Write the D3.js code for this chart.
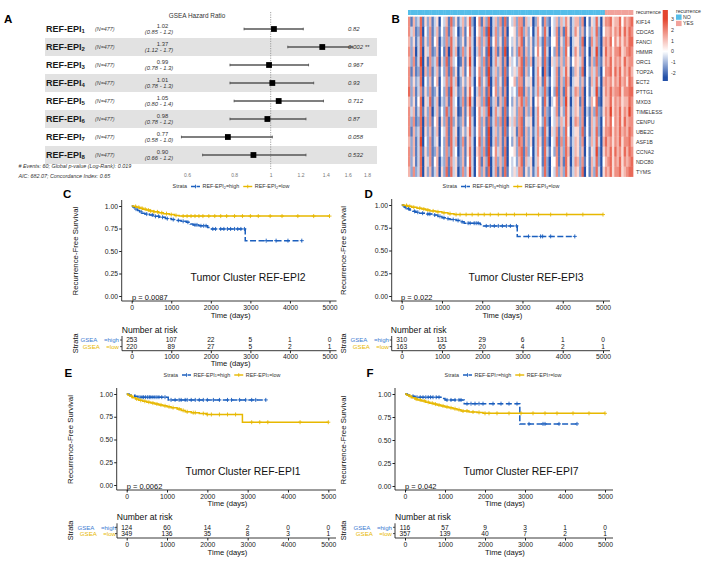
<!DOCTYPE html>
<html><head><meta charset="utf-8">
<script src="https://cdn.jsdelivr.net/npm/d3@7"></script>
<style>
body{margin:0;background:#fff}
svg{display:block}
text{font-family:"Liberation Sans",Arial,Helvetica,sans-serif}
</style>
</head><body>
<svg id="c" width="705" height="561"></svg>
<script>
// ================= DATA =================
// Panel A – forest plot
const forestSub = ["1","2","3","4","5","6","7","8"];
const forestN = "(N=477)";
const forestHR = [1.02,1.37,0.99,1.01,1.05,0.98,0.77,0.90];
const forestLo = [0.85,1.11,0.78,0.78,0.80,0.78,0.58,0.66];
const forestHi = [1.22,1.65,1.26,1.30,1.38,1.24,1.01,1.24];
const forestHRText = ["1.02","1.37","0.99","1.01","1.05","0.98","0.77","0.90"];
const forestCIText = ["(0.85 - 1.2)","(1.12 - 1.7)","(0.78 - 1.3)","(0.78 - 1.3)","(0.80 - 1.4)","(0.78 - 1.2)","(0.58 - 1.0)","(0.66 - 1.2)"];
const forestP = ["0.82","0.002 **","0.967","0.93","0.712","0.87","0.058","0.532"];
const forestTicks = [0.6,0.8,1,1.2,1.4,1.6,1.8];
const forestNotes = ["# Events: 60; Global p-value (Log-Rank): 0.019","AIC: 682.07; Concordance Index: 0.65"];

// Panel B – heatmap (digit d -> z = -2.4 + 0.6*d)
const genes = ["KIF14","CDCA5","FANCI","HMMR","ORC1","TOP2A","ECT2","PTTG1","MXD3","TIMELESS","CENPU","UBE2C","ASF1B","CCNA2","NDC80","TYMS"];
const heatRows = [
"716238152613 504361825136 258204716280 362718143627 716350264172 143626375136 627041538305 778566847678",
"736128042713 614271734026 148304627190 372617044527 826240374283 043716185137 526142638204 667576858687",
"625138152714 603272835125 157305726291 472518143526 815251373182 144715286035 528041737206 768475757688",
"726038053712 604170836027 258303725190 371619042528 716251474183 042716284037 527140639205 867577856787",
"627139051723 705281734016 159304627180 373617053426 817260365182 053626275146 537041628215 768576758677",
"716128062713 614271825036 148314726191 362618143537 816240374082 043716385026 528042637204 778586857686",
"725238042614 604372836025 257304825290 372518044627 715350375183 143716286035 526141638306 767576867587",
"826137152712 504271935126 158403726180 472617043428 816251373282 042816185137 627041539205 768677857788",
"625148053813 603261834027 169305627191 361628042526 827250464183 034716295036 517042648105 668576756687",
"736138152703 614282835016 158204736290 373618143527 716260374172 143715285136 527031628215 769576857697",
"727128062714 605271825126 148304726181 372718053627 815350374282 043626385037 627041637204 768476858677",
"716238052613 604371835025 258314725190 362618143517 816251373183 053716284035 528141638205 778576867687",
"626139042713 504271836027 157304826190 372617042528 716250375182 043817285136 527042638306 867576857786",
"726138152712 614272834026 158305727191 473618044527 817240374183 142716286036 526041539205 768586758687",
"725138053714 603271735126 148304716290 372628043426 816350364182 044716185037 627141638204 678576857678",
"627238052613 605281835027 259304726180 371618143537 715251374282 043726285136 528041628305 768577856788"
];
const recurrenceCats = ["NO","YES"];
const recurrenceN = [84,12];
const heatLegendTicks = [3,2,1,0,-1,-2];

// Panels C–F – Kaplan–Meier
const kmTimeTicks = [0,1000,2000,3000,4000,5000];
const kmSurvTicks = [0,0.25,0.5,0.75,1];
const kmSub = ["2","3","1","7"];
const kmTitles = ["Tumor Cluster REF-EPI2","Tumor Cluster REF-EPI3","Tumor Cluster REF-EPI1","Tumor Cluster REF-EPI7"];
const kmPvals = ["p = 0.0087","p = 0.022","p = 0.0062","p = 0.042"];

const kmHighEvents = [
 [[30,0.99],[60,0.98],[100,0.965],[150,0.95],[200,0.935],[260,0.92],[330,0.91],[450,0.90],[550,0.885],[700,0.875],[850,0.86],[1000,0.85],[1100,0.84],[1250,0.83],[1380,0.82],[1480,0.80],[1550,0.79],[1700,0.78],[1920,0.76],[1980,0.745],[2870,0.615]],
 [[40,0.99],[80,0.975],[130,0.96],[200,0.945],[280,0.93],[350,0.92],[450,0.91],[600,0.90],[750,0.89],[900,0.875],[1000,0.86],[1100,0.85],[1200,0.84],[1350,0.83],[1450,0.815],[1550,0.80],[1950,0.785],[2000,0.77],[2870,0.655]],
 [[60,0.99],[200,0.975],[280,0.965],[1030,0.935]],
 [[60,0.99],[150,0.975],[250,0.965],[900,0.95],[1000,0.935],[1480,0.895],[2870,0.675]]
];
const kmHighEnd = [4300,4300,3450,4300];
const kmHighCens = [
 [110,240,380,520,600,680,780,900,1050,1180,1300,1420,1600,1650,1750,1820,1880,2050,2120,2250,2330,2420,2500,2600,2680,2760,2850,3400,3650,3950,4300],
 [90,170,320,400,520,650,700,820,950,1050,1150,1280,1400,1500,1650,1700,1800,1850,1900,2100,2200,2300,2400,2500,2600,2700,2850,3150,3450,3500,3700,4300],
 [330,380,420,470,520,560,600,650,700,750,800,870,950,1100,1200,1300,1350,1450,1500,1600,1700,1800,1900,2000,2150,2300,2500,2600,2800,2950,3100,3200,3450],
 [200,300,380,450,520,580,640,700,780,850,1050,1150,1250,1350,1400,1550,1650,1750,1850,1950,2200,2400,2600,2800,3100,3450,3500,3850,4300]
];
const kmLowEvents = [
 [[50,0.995],[120,0.985],[200,0.975],[280,0.965],[370,0.955],[460,0.945],[560,0.935],[680,0.925],[800,0.915],[950,0.905],[1080,0.895],[1200,0.888]],
 [[60,0.995],[150,0.985],[250,0.975],[380,0.965],[500,0.955],[600,0.945],[700,0.935],[850,0.925],[1000,0.915],[1150,0.905],[1300,0.895]],
 [[30,0.99],[80,0.975],[150,0.96],[220,0.945],[300,0.93],[400,0.92],[500,0.91],[600,0.90],[700,0.89],[800,0.88],[900,0.87],[1000,0.86],[1100,0.85],[1250,0.835],[1350,0.82],[1450,0.805],[1600,0.795],[1800,0.785],[1980,0.775],[2870,0.69]],
 [[40,0.99],[100,0.975],[170,0.96],[250,0.945],[320,0.935],[420,0.925],[520,0.91],[620,0.90],[720,0.89],[800,0.88],[900,0.87],[1000,0.86],[1100,0.85],[1200,0.84],[1300,0.83],[1400,0.815],[1600,0.805],[1800,0.80],[1950,0.79]]
];
const kmLowEnd = [5000,5000,5000,5000];
const kmLowCens = [
 [100,180,260,340,420,480,560,650,760,880,1000,1120,1300,1400,1500,1600,1700,1800,1950,2100,2250,2400,2600,2800,3000,3200,3500,3800,4200,4600,5000],
 [120,200,300,450,550,650,780,900,1050,1200,1350,1450,1600,1750,1900,2050,2200,2400,2600,2800,3100,3400,3700,4100,4500,5000],
 [120,250,350,450,550,650,750,850,950,1050,1150,1300,1400,1500,1650,1700,1900,2000,2100,2300,2500,2700,3100,3300,3500,4300,5000],
 [130,280,380,480,580,680,760,850,950,1050,1150,1250,1350,1450,1550,1700,1850,2000,2100,2300,2600,2900,3200,3500,3800,4200,4600,5000]
];
const riskHigh = [[253,107,22,5,1,0],[310,131,29,6,1,0],[124,60,14,2,0,0],[116,57,9,3,1,0]];
const riskLow  = [[220,89,27,5,2,1],[163,65,20,4,2,1],[349,136,35,8,3,1],[357,139,40,7,2,1]];

// ================= DRAW =================
const svg = d3.select("#c");
const BLUE = "#1b5fbe", YEL = "#E7B800", BLUE_LAB = "#3d7bd2";
const FF = "Liberation Sans, Arial, sans-serif";

function letter(t,x,y){ svg.append("text").attr("x",x).attr("y",y).attr("font-size",11.5).attr("font-weight","bold").text(t); }
letter("A",4,23.3); letter("B",391.5,23.3);

// ---- Panel A
(function(){
  const g = svg.append("g");
  const n = forestHR.length;
  const fx = d3.scaleLog().domain([0.6,1.8]).range([187,367]);
  const fy = d3.scaleBand().domain(d3.range(n)).range([20,164]);
  const bw = fy.bandwidth();
  g.selectAll("rect.band").data(d3.range(n).filter(i=>i%2===1)).join("rect")
    .attr("x",45).attr("y",i=>fy(i)).attr("width",332).attr("height",bw).attr("fill","#e2e2e2");
  g.append("text").attr("x",197).attr("y",17.6).attr("text-anchor","middle").attr("font-size",6.4).attr("fill","#333").text("GSEA Hazard Ratio");
  g.append("line").attr("x1",fx(1)).attr("x2",fx(1)).attr("y1",12).attr("y2",169)
    .attr("stroke","#8a8a8a").attr("stroke-width",0.8).attr("stroke-dasharray","1.2,1.2");
  const rows = g.selectAll("g.row").data(d3.range(n)).join("g").attr("transform",i=>`translate(0,${fy(i)+bw/2})`);
  const lab = rows.append("text").attr("x",46).attr("y",3.4).attr("font-size",9).attr("font-weight","bold").attr("fill","#1a1a1a");
  lab.append("tspan").text("REF-EPI");
  lab.append("tspan").attr("font-size",6).attr("dy",0.6).text(i=>forestSub[i]);
  rows.append("text").attr("x",95).attr("y",2).attr("font-size",5.4).attr("font-style","italic").attr("fill","#444").text(forestN);
  rows.append("text").attr("x",162.5).attr("y",-1).attr("text-anchor","middle").attr("font-size",5.8).attr("fill","#333").text(i=>forestHRText[i]);
  rows.append("text").attr("x",159).attr("y",4.6).attr("text-anchor","middle").attr("font-size",5.8).attr("font-style","italic").attr("fill","#333").text(i=>forestCIText[i]);
  rows.append("line").attr("x1",i=>fx(forestLo[i])).attr("x2",i=>fx(forestHi[i])).attr("y1",0).attr("y2",0).attr("stroke","#555").attr("stroke-width",1.3);
  rows.append("line").attr("x1",i=>fx(forestLo[i])).attr("x2",i=>fx(forestLo[i])).attr("y1",-1.3).attr("y2",1.3).attr("stroke","#555").attr("stroke-width",0.9);
  rows.append("line").attr("x1",i=>fx(forestHi[i])).attr("x2",i=>fx(forestHi[i])).attr("y1",-1.3).attr("y2",1.3).attr("stroke","#555").attr("stroke-width",0.9);
  rows.append("rect").attr("x",i=>fx(forestHR[i])-2.9).attr("y",-2.9).attr("width",5.8).attr("height",5.8).attr("fill","#000");
  rows.append("text").attr("x",348).attr("y",2).attr("font-size",6).attr("font-style","italic").attr("fill","#333").text(i=>forestP[i]);
  const ax = g.append("g").attr("transform","translate(0,172)")
    .call(d3.axisBottom(fx).tickValues(forestTicks).tickFormat(d=>String(d)).tickSize(0).tickPadding(1));
  ax.select(".domain").remove();
  ax.selectAll("text").attr("font-size",5).attr("fill","#777").attr("font-family",FF);
  g.selectAll("text.note").data(forestNotes).join("text").attr("class","note")
    .attr("x",18.5).attr("y",(d,i)=>167.5+i*10).attr("font-size",5.4).attr("font-style","italic").attr("fill","#333").text(d=>d);
})();

// ---- Panel B
(function(){
  const g = svg.append("g");
  const mat = heatRows.map(s=>s.replace(/\s/g,"").split("").map(c=>-2.4+0.6*(+c)));
  const ncol = d3.max(mat,r=>r.length);
  const hx = d3.scaleBand().domain(d3.range(ncol)).range([408,633]);
  const hy = d3.scaleBand().domain(genes).range([16.7,176.7]);
  const col = d3.scaleLinear().domain([-2.4,0,3]).range(["#2350a8","#ffffff","#e4452f"]).clamp(true);
  const cells = [];
  mat.forEach((r,gi)=>r.forEach((v,ci)=>cells.push({g:genes[gi],c:ci,v})));
  g.selectAll("rect.cell").data(cells).join("rect")
    .attr("x",d=>hx(d.c)).attr("y",d=>hy(d.g)).attr("width",hx.bandwidth()+0.35).attr("height",hy.bandwidth()+0.2)
    .attr("fill",d=>col(d.v));
  const annCol = {NO:"#55bde9",YES:"#f1a29b"};
  const ann = [];
  recurrenceCats.forEach((c,k)=>{ for(let j=0;j<recurrenceN[k];j++) ann.push(c); });
  g.selectAll("rect.ann").data(ann).join("rect")
    .attr("x",(d,i)=>hx(i)).attr("y",10).attr("width",hx.bandwidth()+0.35).attr("height",5).attr("fill",d=>annCol[d]);
  g.append("text").attr("x",636).attr("y",14.2).attr("font-size",5.2).attr("fill","#333").text("recurrence");
  g.selectAll("text.gene").data(genes).join("text").attr("class","gene")
    .attr("x",636).attr("y",d=>hy(d)+hy.bandwidth()/2+1.9).attr("font-size",5.3).attr("fill","#333").text(d=>d);
  const cy = d3.scaleLinear().domain([3,-2]).range([19,73]);
  const top=10, bot=81;
  const defs = svg.append("defs");
  const grad = defs.append("linearGradient").attr("id","hg").attr("x1",0).attr("x2",0).attr("y1",0).attr("y2",1);
  [3.8,3,1.5,0,-1.2,-2.4,-2.8].forEach(v=>{
    const off = Math.max(0,Math.min(1,(cy(v)-top)/(bot-top)));
    grad.append("stop").attr("offset",off).attr("stop-color",col(v));
  });
  g.append("rect").attr("x",662.7).attr("y",top).attr("width",5.2).attr("height",bot-top).attr("fill","url(#hg)");
  g.selectAll("text.lt").data(heatLegendTicks).join("text").attr("class","lt")
    .attr("x",671).attr("y",d=>cy(d)+1.9).attr("font-size",5.3).attr("fill","#333").text(d=>d);
  g.append("text").attr("x",676).attr("y",13).attr("font-size",5.2).attr("fill","#333").text("recurrence");
  recurrenceCats.forEach((c,k)=>{
    g.append("rect").attr("x",676).attr("y",14.5+k*6.3).attr("width",5.6).attr("height",5.3).attr("fill",annCol[c]);
    g.append("text").attr("x",683).attr("y",18.9+k*6.3).attr("font-size",5.2).attr("fill","#333").text(c);
  });
})();

// ---- Panels C–F
const kmCfg = [
 {L:"C",lx:63,ly:197.5, ax:121.7,x0:131.7,x1:329.5,right:336.5, yt:206,yb:296,axY:301, legCx:231,legY:186.5, ytX:75,timeY:317.5, tum:[248,281], pxy:[132,299.5], nar:[121.7,332.5], r:[340,346.6], raX:122,raY:350.7, rTime:366.2, labR:119, strX:75},
 {L:"D",lx:364.5,ly:197.5, ax:391.7,x0:401.7,x1:603,right:610, yt:205,yb:296,axY:301, legCx:501,legY:186.5, ytX:343,timeY:318.3, tum:[526,281], pxy:[401,299.5], nar:[390.7,332.5], r:[340,346.6], raX:391.7,raY:350.7, rTime:null, labR:389, strX:343},
 {L:"E",lx:64.5,ly:377.3, ax:116.7,x0:126.7,x1:328.3,right:336, yt:394,yb:485,axY:490, legCx:222,legY:375, ytX:70,timeY:505.5, tum:[243,474.6], pxy:[126.7,488.5], nar:[116.7,519.5], r:[527.3,533.6], raX:117,raY:538, rTime:555.3, labR:116, strX:70},
 {L:"F",lx:366.5,ly:377.3, ax:395,x0:405,x1:605,right:613, yt:394,yb:486,axY:490, legCx:503,legY:375, ytX:343,timeY:505.5, tum:[521,474.6], pxy:[405,488.5], nar:[395,519.5], r:[527.3,533.6], raX:395,raY:538, rTime:555.3, labR:392, strX:343}
];

function stepPts(ev,end){ const p=[[0,1]]; let s=1; ev.forEach(([t,v])=>{p.push([t,s]);p.push([t,v]);s=v;}); p.push([end,s]); return p; }
function survAt(ev,t){ let s=1; for(const [tt,v] of ev){ if(tt<=t) s=v; } return s; }

kmCfg.forEach((c,k)=>{
  const g = svg.append("g");
  letter(c.L,c.lx,c.ly);
  const x = d3.scaleLinear().domain([0,5000]).range([c.x0,c.x1]);
  const y = d3.scaleLinear().domain([0,1]).range([c.yb,c.yt]);
  const fs = 6.8;
  const xa = g.append("g").attr("transform",`translate(0,${c.axY})`)
    .call(d3.axisBottom(x).tickValues(kmTimeTicks).tickFormat(d3.format("d")).tickSize(2.5).tickPadding(1.2));
  xa.select(".domain").remove();
  g.append("line").attr("x1",c.ax).attr("x2",c.right).attr("y1",c.axY).attr("y2",c.axY).attr("stroke","#222").attr("stroke-width",0.9);
  const ya = g.append("g").attr("transform",`translate(${c.ax},0)`)
    .call(d3.axisLeft(y).tickValues(kmSurvTicks).tickFormat(d3.format(".2f")).tickSize(2.5).tickPadding(1.2));
  ya.select(".domain").remove();
  g.append("line").attr("x1",c.ax).attr("x2",c.ax).attr("y1",c.yt-6).attr("y2",c.axY).attr("stroke","#222").attr("stroke-width",0.9);
  [xa,ya].forEach(a=>{ a.selectAll("text").attr("font-size",fs).attr("fill","#222").attr("font-family",FF); a.selectAll(".tick line").attr("stroke","#222"); });
  g.append("text").attr("x",(c.x0+c.x1)/2).attr("y",c.timeY).attr("text-anchor","middle").attr("font-size",7.6).attr("fill","#111").text("Time (days)");
  g.append("text").attr("transform",`translate(${c.ytX+2.8},${(c.yt+c.yb)/2}) rotate(-90)`).attr("text-anchor","middle").attr("font-size",7.8).attr("fill","#111").text("Recurrence-Free Survival");
  const line = d3.line().x(p=>x(p[0])).y(p=>y(p[1]));
  const series = [
    {ev:kmHighEvents[k],end:kmHighEnd[k],cens:kmHighCens[k],color:BLUE,dash:"6,2.5"},
    {ev:kmLowEvents[k],end:kmLowEnd[k],cens:kmLowCens[k],color:YEL,dash:null}
  ];
  series.forEach(s=>{
    g.append("path").attr("d",line(stepPts(s.ev,s.end))).attr("fill","none").attr("stroke",s.color).attr("stroke-width",1.5)
      .attr("stroke-dasharray",s.dash);
    const cg = g.append("g").attr("stroke",s.color).attr("stroke-width",0.9);
    s.cens.forEach(t=>{
      const px=x(t), py=y(survAt(s.ev,t));
      cg.append("line").attr("x1",px-2).attr("x2",px+2).attr("y1",py).attr("y2",py);
      cg.append("line").attr("x1",px).attr("x2",px).attr("y1",py-2).attr("y2",py+2);
    });
  });
  g.append("text").attr("x",c.tum[0]).attr("y",c.tum[1]).attr("text-anchor","middle").attr("font-size",10.4).attr("fill","#111").text(kmTitles[k]);
  g.append("text").attr("x",c.pxy[0]).attr("y",c.pxy[1]).attr("font-size",7.5).attr("fill","#111").text(kmPvals[k]);
  // legend
  const lg = g.append("g");
  const lfs = 5.4;
  const items = [];
  const tS = lg.append("text").attr("y",c.legY+1.9).attr("font-size",lfs).attr("fill","#333").text("Strata");
  items.push({node:tS,w:tS.node().getComputedTextLength(),gap:4});
  [["high",BLUE,"4,1.5"],["low",YEL,null]].forEach(([lv,colr,dash])=>{
    const sym = lg.append("g");
    sym.append("line").attr("x1",0).attr("x2",9).attr("y1",c.legY).attr("y2",c.legY).attr("stroke",colr).attr("stroke-width",1.4).attr("stroke-dasharray",dash);
    sym.append("line").attr("x1",4.5).attr("x2",4.5).attr("y1",c.legY-1.8).attr("y2",c.legY+1.8).attr("stroke",colr).attr("stroke-width",0.9);
    items.push({node:sym,w:9,gap:2.5,isG:true});
    const t = lg.append("text").attr("y",c.legY+1.9).attr("font-size",lfs).attr("fill","#333");
    t.append("tspan").text("REF-EPI");
    t.append("tspan").attr("font-size",3.8).attr("dy",0.5).text(kmSub[k]);
    t.append("tspan").attr("dy",-0.5).text("="+lv);
    items.push({node:t,w:t.node().getComputedTextLength(),gap:4});
  });
  const tot = d3.sum(items,(d,i)=>d.w+(i<items.length-1?d.gap:0));
  let cx = c.legCx - tot/2;
  items.forEach(it=>{ if(it.isG) it.node.attr("transform",`translate(${cx},0)`); else it.node.attr("x",cx); cx += it.w+it.gap; });
  // risk table
  g.append("text").attr("x",c.nar[0]).attr("y",c.nar[1]).attr("font-size",8.6).attr("fill","#111").text("Number at risk");
  const rfs = 6.1;
  [[riskHigh[k],c.r[0],BLUE_LAB,"=high"],[riskLow[k],c.r[1],YEL,"=low"]].forEach(([vals,ry,colr,lv])=>{
    g.selectAll(null).data(vals).join("text").attr("x",(d,i)=>x(kmTimeTicks[i])).attr("y",ry+2.3)
      .attr("text-anchor","middle").attr("font-size",rfs+0.5).attr("fill","#111").text(d=>d);
    const t2 = g.append("text").attr("x",c.labR).attr("y",ry+2.2).attr("text-anchor","end").attr("font-size",rfs).attr("fill",colr).text(lv);
    const w2 = t2.node().getComputedTextLength();
    g.append("text").attr("x",c.labR-w2-6.5).attr("y",ry+2.2).attr("text-anchor","end").attr("font-size",rfs).attr("fill",colr).text("GSEA");
    g.append("line").attr("x1",c.raX-2).attr("x2",c.raX).attr("y1",ry).attr("y2",ry).attr("stroke","#222").attr("stroke-width",0.8);
  });
  g.append("line").attr("x1",c.raX).attr("x2",c.raX).attr("y1",c.r[0]-4).attr("y2",c.raY).attr("stroke","#222").attr("stroke-width",0.9);
  g.append("line").attr("x1",c.raX).attr("x2",c.right).attr("y1",c.raY).attr("y2",c.raY).attr("stroke","#222").attr("stroke-width",0.9);
  const rx = g.append("g").attr("transform",`translate(0,${c.raY})`)
    .call(d3.axisBottom(x).tickValues(kmTimeTicks).tickFormat(d3.format("d")).tickSize(2.5).tickPadding(1.2));
  rx.select(".domain").remove();
  rx.selectAll("text").attr("font-size",fs).attr("fill","#222").attr("font-family",FF);
  rx.selectAll(".tick line").attr("stroke","#222");
  if(c.rTime) g.append("text").attr("x",(c.x0+c.x1)/2).attr("y",c.rTime).attr("text-anchor","middle").attr("font-size",7.6).attr("fill","#111").text("Time (days)");
  g.append("text").attr("transform",`translate(${c.strX+2.6},${(c.r[0]+c.r[1])/2}) rotate(-90)`).attr("text-anchor","middle").attr("font-size",7.4).attr("fill","#111").text("Strata");
});
</script>
</body></html>
